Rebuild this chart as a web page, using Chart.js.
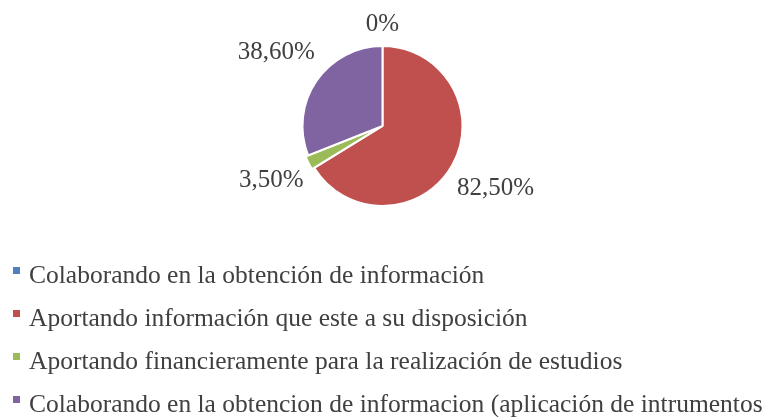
<!DOCTYPE html>
<html>
<head>
<meta charset="utf-8">
<script src="https://cdn.jsdelivr.net/npm/chart.js@4/dist/chart.umd.min.js"></script>
<style>
  html, body { margin: 0; padding: 0; background: #fff; }
  #wrap { width: 765px; height: 417px; }
</style>
</head>
<body>
<div id="wrap"><canvas id="pieCanva" width="765" height="417"></canvas></div>
<script>
// Data
var categories = [
    'Colaborando en la obtención de información',
    'Aportando información que este a su disposición',
    'Aportando financieramente para la realización de estudios',
    'Colaborando en la obtencion de informacion (aplicación de intrumentos'
];
var percentValues = [0, 82.5, 3.5, 38.6];
var valueLabels = ['0%', '82,50%', '3,50%', '38,60%'];
var sliceColors = ['#4F81BD', '#C0504D', '#9BBB59', '#8064A2'];

var textColor = '#404040';
var serif = '"Liberation Serif", "DejaVu Serif", serif';

// Outside-end labels for each slice
var outsideLabels = {
    id: 'outsideLabels',
    afterDatasetsDraw: function (chart) {
        var ctx = chart.ctx;
        var meta = chart.getDatasetMeta(0);
        ctx.save();
        ctx.font = '25px ' + serif;
        ctx.fillStyle = textColor;
        ctx.textAlign = 'center';
        ctx.textBaseline = 'middle';
        meta.data.forEach(function (arc, i) {
            var p = arc.getProps(['x', 'y', 'startAngle', 'endAngle', 'outerRadius'], true);
            var mid = (p.startAngle + p.endAngle) / 2;
            var dx = Math.cos(mid), dy = Math.sin(mid);
            var text = valueLabels[i];
            var halfW = ctx.measureText(text).width / 2;
            var halfH = 10;
            var dist = p.outerRadius + 11 + Math.abs(dx) * halfW + Math.abs(dy) * halfH;
            ctx.fillText(text, p.x + dx * dist, p.y + dy * dist - 1);
        });
        ctx.restore();
    }
};

// Legend drawn as a left-aligned list below the pie
var listLegend = {
    id: 'listLegend',
    afterDraw: function (chart) {
        var ctx = chart.ctx;
        var ds = chart.data.datasets[0];
        var top = chart.chartArea.bottom;
        ctx.save();
        ctx.font = '25.5px ' + serif;
        ctx.textBaseline = 'alphabetic';
        ctx.textAlign = 'left';
        chart.data.labels.forEach(function (label, i) {
            var base = top + 73 + i * 43;
            ctx.fillStyle = ds.backgroundColor[i];
            ctx.fillRect(13, base - 16, 7, 7);
            ctx.fillStyle = textColor;
            ctx.fillText(label, 29, base);
        });
        ctx.restore();
    }
};

var ctx = document.getElementById('pieCanva').getContext('2d');

var pieChart = new Chart(ctx, {
    type: 'pie',
    data: {
        labels: categories,
        datasets: [{
            data: percentValues,
            backgroundColor: sliceColors,
            borderColor: '#ffffff',
            borderWidth: 2,
            offset: [0, 0, 6, 0],
            hoverOffset: 0
        }]
    },
    options: {
        responsive: false,
        animation: false,
        layout: {
            padding: { top: 42, bottom: 207, left: 0, right: 0 }
        },
        plugins: {
            legend: { display: false },
            tooltip: { enabled: false }
        }
    },
    plugins: [outsideLabels, listLegend]
});
</script>
</body>
</html>
